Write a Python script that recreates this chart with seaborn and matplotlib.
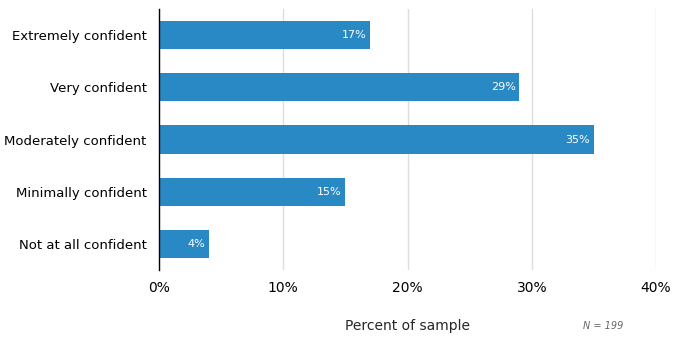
import pandas as pd
import seaborn as sns
import matplotlib.pyplot as plt
from matplotlib.ticker import FuncFormatter

# Data
categories = ["Extremely confident", "Very confident", "Moderately confident",
              "Minimally confident", "Not at all confident"]
percents = [17, 29, 35, 15, 4]
n_sample = 199

df = pd.DataFrame({"level": categories, "pct": percents})

sns.set_style("white")
plt.rcParams['font.family'] = ['DejaVu Sans']

fig = plt.figure(figsize=(6.75, 3.55), dpi=100)
ax = fig.add_axes([0.2356, 0.2394, 0.7363, 0.7352])

sns.barplot(data=df, x="pct", y="level", color="#2889c5", saturation=1,
            width=0.54, linewidth=0, ax=ax, zorder=3)

for bar, v in zip(ax.patches, percents):
    ax.text(bar.get_width() - 0.3, bar.get_y() + bar.get_height() / 2, f"{v}%",
            color="white", ha="right", va="center", fontsize=8, zorder=4)

ax.set_xlim(0, 40)
ax.set_ylim(4.5, -0.5)
ax.set_xticks([0, 10, 20, 30, 40])
ax.xaxis.set_major_formatter(FuncFormatter(lambda x, p: f"{x:.0f}%"))
ax.grid(axis="x", color="#dddddd", linewidth=1, zorder=0)
ax.tick_params(axis="both", length=0, labelsize=9.5, colors="black")
ax.tick_params(axis="y", pad=9)
ax.tick_params(axis="x", pad=8, labelsize=10)

for s in ["top", "right", "bottom"]:
    ax.spines[s].set_visible(False)
ax.spines["left"].set_color("black")
ax.spines["left"].set_linewidth(1)
ax.spines["left"].set_zorder(5)

ax.set_ylabel("")
ax.set_xlabel("Percent of sample", fontsize=10, labelpad=17)

fig.text(603 / 675, 1 - 326 / 355, f"N = {n_sample}", fontsize=7, style="italic",
         color="#666666", ha="center", va="center")

fig.savefig("out.png", dpi=100)
